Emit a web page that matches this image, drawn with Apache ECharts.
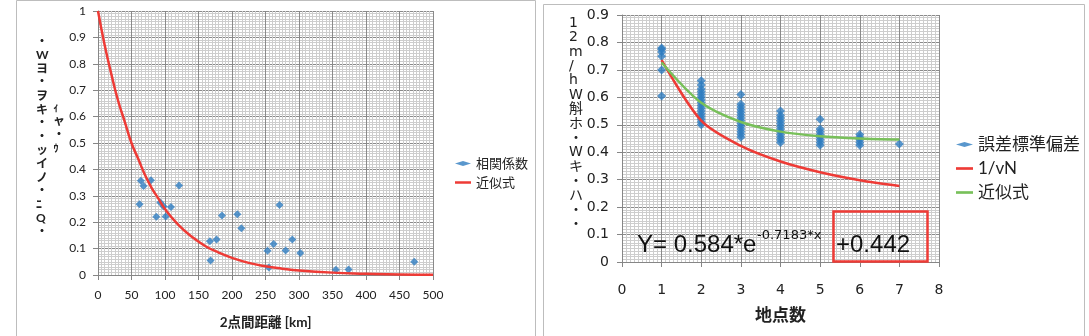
<!DOCTYPE html>
<html>
<head>
<meta charset="utf-8">
<script src="https://cdn.jsdelivr.net/npm/echarts@6/dist/echarts.min.js"></script>
<style>
  html, body { margin: 0; padding: 0; background: #fff; }
  #main { width: 1089px; height: 336px; }
</style>
</head>
<body>
<div id="main"></div>
<script>
// 左: 2点間距離と相関係数
var distKm = [64, 68, 62, 79, 93, 98, 109, 87, 101, 121, 167, 168, 177, 185, 208, 214, 253, 255, 262, 271, 280, 290, 302, 355, 374, 472];
var corrVal = [0.357, 0.337, 0.268, 0.359, 0.275, 0.259, 0.258, 0.221, 0.222, 0.339, 0.128, 0.055, 0.134, 0.225, 0.230, 0.177, 0.092, 0.028, 0.117, 0.265, 0.093, 0.134, 0.083, 0.020, 0.021, 0.050];
var fitKm = [0, 10, 20, 30, 40, 50, 60, 70, 80, 90, 100, 120, 140, 160, 180, 200, 225, 250, 275, 300, 350, 400, 450, 500];
var fitCorr = [1, 0.87, 0.76, 0.66, 0.58, 0.50, 0.44, 0.38, 0.33, 0.29, 0.25, 0.19, 0.145, 0.11, 0.085, 0.065, 0.046, 0.033, 0.024, 0.017, 0.009, 0.005, 0.002, 0.001];

// 右: 地点数と誤差標準偏差
var pointN = [1, 2, 3, 4, 5, 6, 7];
var errGroups = [
  [0.78, 0.775, 0.765, 0.75, 0.70, 0.605],
  [0.66, 0.645, 0.63, 0.62, 0.61, 0.60, 0.59, 0.58, 0.57, 0.56, 0.55, 0.54, 0.53, 0.52, 0.51, 0.50],
  [0.61, 0.575, 0.565, 0.555, 0.545, 0.535, 0.525, 0.515, 0.505, 0.495, 0.485, 0.475, 0.465, 0.455],
  [0.55, 0.535, 0.525, 0.515, 0.505, 0.495, 0.485, 0.475, 0.465, 0.455, 0.445, 0.435],
  [0.52, 0.485, 0.475, 0.465, 0.455, 0.445, 0.435, 0.425],
  [0.465, 0.455, 0.445, 0.435, 0.425],
  [0.43]
];
var invSqrtN = [0.736, 0.515, 0.423, 0.366, 0.327, 0.298, 0.277];
var fitErr = [0.727, 0.580, 0.510, 0.475, 0.458, 0.450, 0.446];

var leftYName = ['・', 'W', 'ヨ', '・', 'ヲ', 'キ', '・', '・', 'ッ', 'イ', 'ノ', '・', 'ﾆ', 'Q', '・'];
var leftYName2 = ['ｨ', 'ャ', '・', 'ｩ'];
var rightYName = ['1', '2', 'm', '/', 'h', 'W', '斛', 'ホ', '・', 'W', 'キ', '・', 'ハ', '・', '・'];

var BLUE = '#2f7dc0', RED = '#ee3b36', GREEN = '#78c05a';
var LFONT = 'Lato, "Noto Sans CJK JP", sans-serif';
var RFONT = '"DejaVu Sans", "Noto Sans CJK JP", sans-serif';
var EQFONT = '"Liberation Sans", Arial, sans-serif';
var LINE_ICON = 'path://M0,0L16,0L16,2.5L0,2.5Z';

var errData = [];
errGroups.forEach(function (g, i) {
  g.forEach(function (v) { errData.push([pointN[i], v]); });
});

function zip(a, b) {
  return a.map(function (v, i) { return [v, b[i]]; });
}

function makeAxis(min, max, interval, font, size, margin) {
  return {
    min: min, max: max, interval: interval,
    axisLine: { show: true, lineStyle: { color: '#868686' } },
    axisTick: { show: true, length: 5, inside: false, lineStyle: { color: '#868686' } },
    axisLabel: { color: '#222', fontFamily: font, fontSize: size, margin: margin },
    splitLine: { show: true, lineStyle: { color: '#8a8a8a', width: 1 } },
    minorTick: { show: false, splitNumber: 10 },
    minorSplitLine: { show: true, lineStyle: { color: '#cdcdcd', width: 1 } }
  };
}

var x0 = makeAxis(0, 500, 50, LFONT, 12, 14);
x0.type = 'value'; x0.gridIndex = 0;
x0.name = '2点間距離 [km]'; x0.nameLocation = 'middle'; x0.nameGap = 41;
x0.nameTextStyle = { fontFamily: LFONT, fontSize: 13.5, fontWeight: 'bold', color: '#222' };
var y0 = makeAxis(0, 1, 0.1, LFONT, 12, 12);
y0.type = 'value'; y0.gridIndex = 0;

var x1 = makeAxis(0, 8, 1, RFONT, 14, 21);
x1.type = 'value'; x1.gridIndex = 1;
x1.name = '地点数'; x1.nameLocation = 'middle'; x1.nameGap = 46;
x1.nameTextStyle = { fontFamily: RFONT, fontSize: 17, fontWeight: 'bold', color: '#222' };
var y1 = makeAxis(0, 0.9, 0.1, RFONT, 14, 13);
y1.type = 'value'; y1.gridIndex = 1;

var chart = echarts.init(document.getElementById('main'));

chart.setOption({
  animation: false,
  backgroundColor: '#fff',
  grid: [
    { left: 98, top: 11, width: 335, height: 264 },
    { left: 622, top: 15, width: 317, height: 247 }
  ],
  xAxis: [x0, x1],
  yAxis: [y0, y1],
  legend: [
    {
      orient: 'vertical', left: 455, top: 157, padding: 0, itemWidth: 16, itemHeight: 5, itemGap: 6,
      textStyle: { fontFamily: LFONT, fontSize: 13, color: '#222' },
      data: [
        { name: '相関係数', icon: 'diamond' },
        { name: '近似式', icon: LINE_ICON, itemStyle: { color: RED } }
      ]
    },
    {
      orient: 'vertical', left: 956, top: 136, padding: 0, itemWidth: 17, itemHeight: 5, itemGap: 7,
      textStyle: { fontFamily: LFONT, fontSize: 17, color: '#222' },
      data: [
        { name: '誤差標準偏差', icon: 'diamond' },
        { name: '1/vN', icon: LINE_ICON, itemStyle: { color: RED } },
        { name: '近似式', icon: LINE_ICON, itemStyle: { color: GREEN } }
      ]
    }
  ],
  series: [
    {
      name: '相関係数', type: 'scatter', xAxisIndex: 0, yAxisIndex: 0,
      symbol: 'diamond', symbolSize: 8, itemStyle: { color: BLUE },
      data: zip(distKm, corrVal)
    },
    {
      name: '近似式', type: 'line', xAxisIndex: 0, yAxisIndex: 0,
      symbol: 'none', smooth: true, lineStyle: { color: RED, width: 2.5 }, itemStyle: { color: RED },
      data: zip(fitKm, fitCorr)
    },
    {
      name: '誤差標準偏差', type: 'scatter', xAxisIndex: 1, yAxisIndex: 1,
      symbol: 'diamond', symbolSize: 9, itemStyle: { color: BLUE },
      data: errData
    },
    {
      name: '1/vN', type: 'line', xAxisIndex: 1, yAxisIndex: 1,
      symbol: 'none', smooth: 0.3, lineStyle: { color: RED, width: 2.5 }, itemStyle: { color: RED },
      data: zip(pointN, invSqrtN)
    },
    {
      name: '近似式', type: 'line', xAxisIndex: 1, yAxisIndex: 1,
      symbol: 'none', smooth: 0.3, lineStyle: { color: GREEN, width: 2.5 }, itemStyle: { color: GREEN },
      data: zip(pointN, fitErr)
    }
  ],
  graphic: [
    // パネル枠
    { type: 'rect', shape: { x: 16.5, y: 0.5, width: 519, height: 340 }, style: { fill: null, stroke: '#bdbdbd', lineWidth: 1 }, z: -1 },
    { type: 'rect', shape: { x: 543.5, y: 4.5, width: 541, height: 340 }, style: { fill: null, stroke: '#bdbdbd', lineWidth: 1 }, z: -1 },
    // 縦軸タイトル (文字化け)
    { type: 'text', left: 36, top: 35, style: { text: leftYName.join('\n'), fontFamily: LFONT, fontSize: 12, fontWeight: 'bold', lineHeight: 13.6, fill: '#222', align: 'center' } },
    { type: 'text', left: 53, top: 101, style: { text: leftYName2.join('\n'), fontFamily: LFONT, fontSize: 12, fontWeight: 'bold', lineHeight: 13.5, fill: '#222', align: 'center' } },
    { type: 'text', left: 569, top: 16, style: { text: rightYName.join('\n'), fontFamily: RFONT, fontSize: 14, lineHeight: 14.4, fill: '#222', align: 'center' } },
    // 近似式の注記
    { type: 'text', left: 637, top: 233, z: 10, style: { text: 'Y= 0.584*e', fontFamily: EQFONT, fontSize: 24, fill: '#111' } },
    { type: 'text', left: 757, top: 229, z: 10, style: { text: '-0.7183*x', fontFamily: RFONT, fontSize: 13, fill: '#111' } },
    { type: 'text', left: 836, top: 233, z: 11, style: { text: '+0.442', fontFamily: EQFONT, fontSize: 24, fill: '#111' } },
    { type: 'rect', z: 12, shape: { x: 833.5, y: 211.5, width: 94, height: 50 }, style: { fill: null, stroke: RED, lineWidth: 2.5 } }
  ]
});
</script>
</body>
</html>
